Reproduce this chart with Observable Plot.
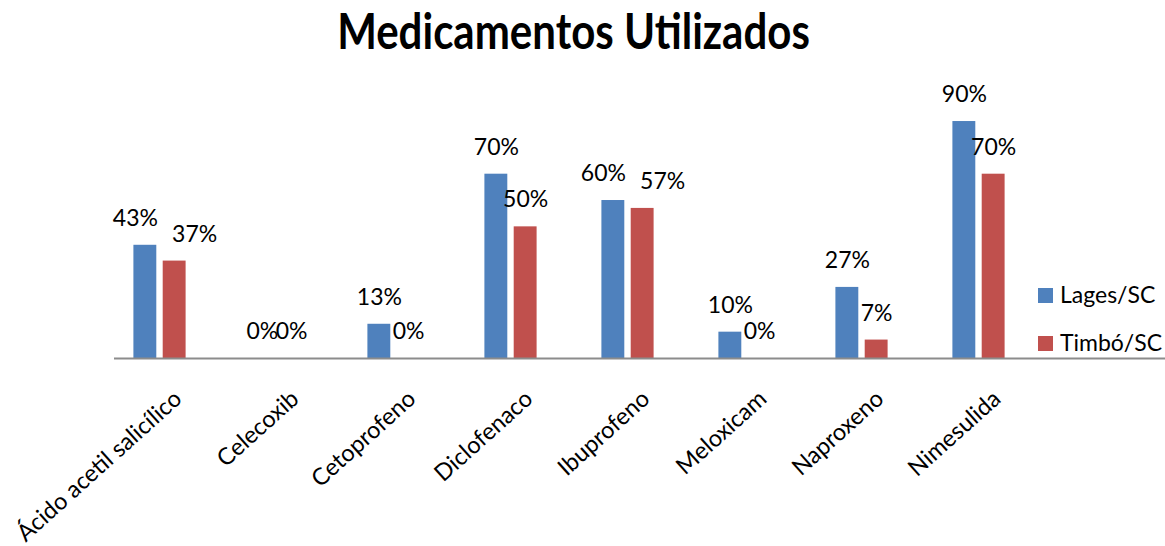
<!DOCTYPE html>
<html>
<head>
<meta charset="utf-8">
<script src="https://cdn.jsdelivr.net/npm/d3@7"></script>
<script src="https://cdn.jsdelivr.net/npm/@observablehq/plot@0.6"></script>
<style>
  html, body { margin: 0; padding: 0; background: #fff; }
  body { position: relative; width: 1165px; height: 546px; overflow: hidden; font-family: Lato, "Open Sans", sans-serif; color: #000; }
  #title { height: 70px; width: 1147px; box-sizing: border-box; padding-top: 8px; line-height: 50px; text-align: center; font-weight: bold; font-size: 42px; }
  #title span { display: inline-block; transform: scaleY(1.16); transform-origin: 50% 82%; }
  .sw { position: absolute; width: 15px; height: 15px; }
  .lt { position: absolute; font-size: 23px; line-height: 23px; white-space: nowrap; }
</style>
</head>
<body>
<div id="title"><span>Medicamentos Utilizados</span></div>
<div id="chart"></div>
<div id="legend"></div>
<script>
const categories = ["Ácido acetil salicílico", "Celecoxib", "Cetoprofeno", "Diclofenaco", "Ibuprofeno", "Meloxicam", "Naproxeno", "Nimesulida"];
const seriesNames = ["Lages/SC", "Timbó/SC"];
const lagesValues = [43, 0, 13, 70, 60, 10, 27, 90];
const timboValues = [37, 0, 0, 50, 57, 0, 7, 70];
const colors = ["#4F81BD", "#C0504D"];

const lages = categories.map((c, i) => ({cat: c, series: seriesNames[0], value: lagesValues[i], other: timboValues[i]}));
const timbo = categories.map((c, i) => ({cat: c, series: seriesNames[1], value: timboValues[i], other: lagesValues[i]}));

// labels of a pair whose values are close (and non-zero) are pushed apart to avoid overlap
const isClose = d => d.value > 0 && d.other > 0 && Math.abs(d.value - d.other) < 10;
const notClose = d => !isClose(d);

const off = 14.65, inset = 47.05;
const fmt = d => d.value + "%";
const lblOpts = {x: "cat", y: "value", text: fmt, dy: -19.5, lineAnchor: "bottom", fontSize: 23, fill: "#000"};

const chart = Plot.plot({
  width: 1165,
  height: 476,
  marginLeft: 99.5,
  marginRight: 126.5,
  marginTop: 24.7,
  marginBottom: 188,
  x: {domain: categories, padding: 0, axis: null},
  y: {domain: [0, 100], axis: null},
  style: {fontFamily: "Lato, 'Open Sans', sans-serif", fontSize: "23px", color: "#000", background: "#fff", overflow: "visible"},
  marks: [
    Plot.barY(lages, {x: "cat", y: "value", fill: colors[0], dx: -off, insetLeft: inset, insetRight: inset}),
    Plot.barY(timbo, {x: "cat", y: "value", fill: colors[1], dx: off, insetLeft: inset, insetRight: inset}),
    Plot.ruleY([0], {stroke: "#8c8c8c", strokeWidth: 2, insetLeft: 14.5, insetRight: -126.5}),
    Plot.text(lages, {...lblOpts, filter: notClose, dx: -off}),
    Plot.text(lages, {...lblOpts, filter: isClose, dx: -off - 10}),
    Plot.text(timbo, {...lblOpts, filter: notClose, dx: off}),
    Plot.text(timbo, {...lblOpts, filter: isClose, dx: off + 20}),
    Plot.text(categories, {x: d => d, frameAnchor: "bottom", text: d => d, rotate: -42, textAnchor: "end", lineAnchor: "top", dx: 12, dy: 30, fontSize: 23.5, fill: "#000"})
  ]
});
document.getElementById("chart").appendChild(chart);

const legend = document.getElementById("legend");
seriesNames.forEach((name, i) => {
  const sw = document.createElement("div");
  sw.className = "sw";
  sw.style.left = "1038px";
  sw.style.top = (288 + i * 48) + "px";
  sw.style.background = colors[i];
  legend.appendChild(sw);
  const t = document.createElement("div");
  t.className = "lt";
  t.style.left = "1060px";
  t.style.top = (282.5 + i * 48) + "px";
  t.textContent = name;
  legend.appendChild(t);
});
</script>
</body>
</html>
